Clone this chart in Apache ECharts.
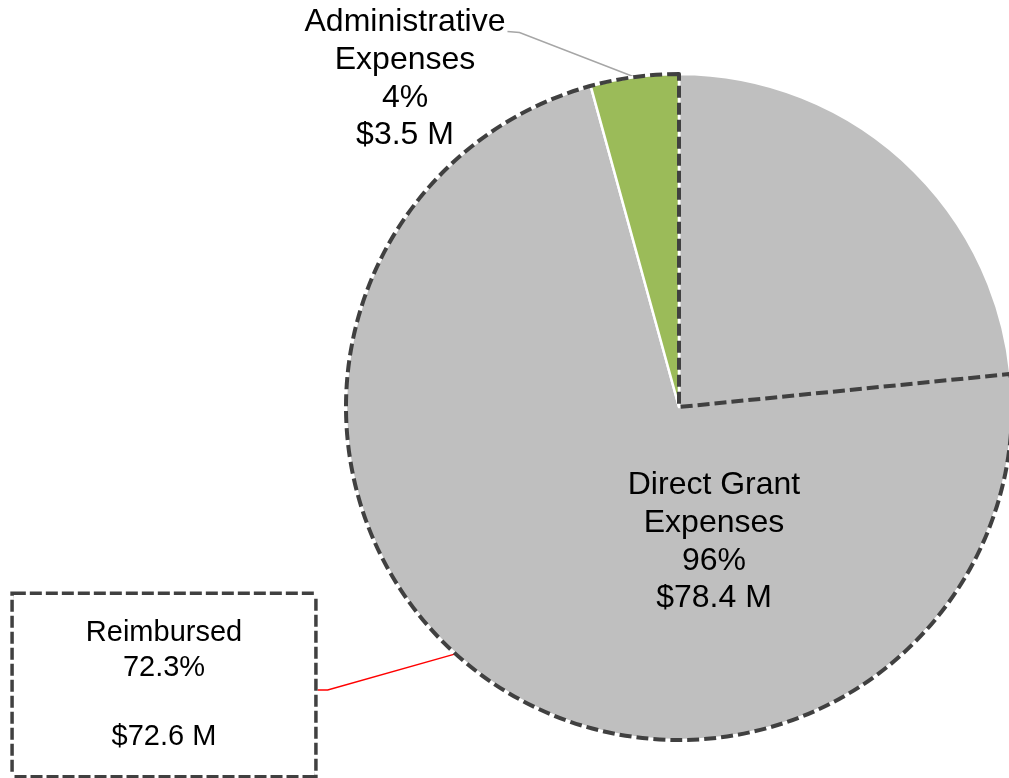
<!DOCTYPE html>
<html>
<head>
<meta charset="utf-8">
<script src="https://cdn.jsdelivr.net/npm/echarts@6/dist/echarts.min.js"></script>
<style>
  html, body { margin: 0; padding: 0; background: #fff; }
  #chart { width: 1009px; height: 778px; }
</style>
</head>
<body>
<div id="chart"></div>
<script>
// expense split ($ M)
const categories = ["Direct Grant\nExpenses", "Administrative\nExpenses"];
const amounts = [78.4, 3.5];
const percentLabels = ["96%", "4%"];
const amountLabels = ["$78.4 M", "$3.5 M"];

// reimbursed overlay (dashed outline), sizes
const reimbursedCategories = ["Reimbursed", "Not reimbursed"];
const reimbursedAmounts = [72.6, 22.2];
const reimbursedPercent = "72.3%";
const reimbursedLabel = "$72.6 M";

const center = [679, 407];
const radius = 333;
const font = 'Arial, "Liberation Sans", sans-serif';

const chart = echarts.init(document.getElementById("chart"));

chart.setOption({
  animation: false,
  series: [
    {
      type: "pie",
      center: center,
      radius: radius,
      startAngle: 90,
      clockwise: true,
      avoidLabelOverlap: false,
      itemStyle: {
        borderColor: "#fff",
        borderWidth: 2.5,
      },
      label: {
        color: "#000",
        fontFamily: font,
        fontSize: 32,
        lineHeight: 37.7,
        align: "center",
        formatter: (p) =>
          p.name + "\n" + percentLabels[p.dataIndex] + "\n" + amountLabels[p.dataIndex],
      },
      labelLine: {
        show: true,
        lineStyle: { color: "#A6A6A6", width: 1.5 },
      },
      labelLayout: (params) => {
        if (params.dataIndex === 0) {
          return { x: 714, y: 542, align: "center", verticalAlign: "middle" };
        }
        const x = 405;
        const y = 79;
        const w = params.labelRect.width;
        const h = params.labelRect.height;
        const end = [x + w / 2 + 2, y - h / 2 + 28];
        const start = params.labelLinePoints
          ? params.labelLinePoints[0]
          : [center[0], center[1] - radius];
        return {
          x: x,
          y: y,
          align: "center",
          verticalAlign: "middle",
          labelLinePoints: [start, [end[0] + 12, end[1] + 1], end],
        };
      },
      data: categories.map((name, i) => ({
        name: name,
        value: amounts[i],
        itemStyle: { color: i === 0 ? "#BFBFBF" : "#9BBB59" },
        label: { position: i === 0 ? "inside" : "outside" },
        labelLine: { show: i !== 0 },
      })),
    },
    {
      type: "pie",
      center: center,
      radius: radius,
      startAngle: 90,
      clockwise: false,
      avoidLabelOverlap: false,
      silent: true,
      labelLayout: (params) => {
        if (params.dataIndex !== 0) return {};
        const x = 164;
        const y = 685;
        const w = params.labelRect.width;
        const end = [x + w / 2, y + 5];
        const start = params.labelLinePoints
          ? params.labelLinePoints[0]
          : [center[0], center[1] + radius];
        return {
          x: x,
          y: y,
          align: "center",
          verticalAlign: "middle",
          labelLinePoints: [start, [end[0] + 10, end[1]], end],
        };
      },
      data: reimbursedCategories.map((name, i) => ({
        name: name,
        value: reimbursedAmounts[i],
        itemStyle:
          i === 0
            ? {
                color: "rgba(0,0,0,0)",
                borderColor: "#404040",
                borderWidth: 4,
                borderType: [12, 5],
              }
            : { color: "rgba(0,0,0,0)", borderWidth: 0 },
        label: i === 0
          ? {
              show: true,
              position: "outside",
              color: "#000",
              fontFamily: font,
              fontSize: 29,
              lineHeight: 34.5,
              align: "center",
              padding: [23, 72, 19, 72],
              borderColor: "#404040",
              borderWidth: 3.5,
              borderType: [12, 4],
              backgroundColor: "#fff",
              formatter: () => name + "\n" + reimbursedPercent + "\n\n" + reimbursedLabel,
            }
          : { show: false },
        labelLine: i === 0
          ? { show: true, lineStyle: { color: "#FF0000", width: 1.5 } }
          : { show: false },
      })),
    },
  ],
});
</script>
</body>
</html>
